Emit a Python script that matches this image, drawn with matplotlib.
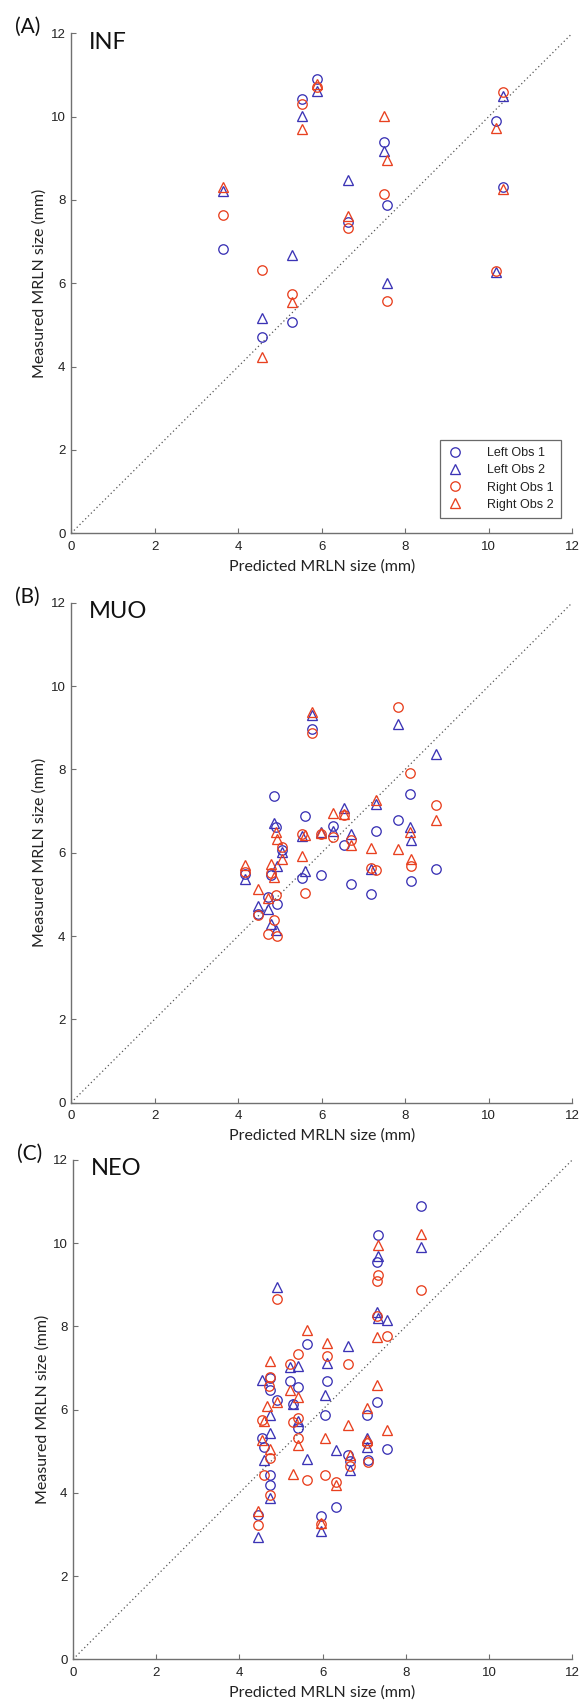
import matplotlib
matplotlib.use("Agg")
import matplotlib.pyplot as plt

# ---------------- Data ----------------
# Panel A (INF): one predicted size per node, four measurements each
inf_x = [3.63, 4.57, 5.30, 5.54, 5.90, 6.63, 7.49, 7.57, 10.18, 10.35]
inf_left_obs1 = [6.82, 4.72, 5.06, 10.42, 10.90, 7.47, 9.38, 7.87, 9.90, 8.30]
inf_left_obs2 = [8.22, 5.17, 6.67, 10.02, 10.62, 8.48, 9.18, 6.00, 6.27, 10.50]
inf_right_obs1 = [7.64, 6.31, 5.74, 10.30, 10.70, 7.33, 8.14, 5.58, 6.30, 10.60]
inf_right_obs2 = [8.32, 4.22, 5.54, 9.70, 10.78, 7.62, 10.02, 8.96, 9.72, 8.27]

# Panel B (MUO)
muo_x = [4.17, 4.48, 4.71, 4.79, 4.86, 4.90, 4.92, 5.06, 5.53, 5.59, 5.78,
         5.98, 6.26, 6.54, 6.70, 7.17, 7.30, 7.83, 8.11, 8.13, 8.74]
muo_left_obs1 = [5.50, 4.53, 4.94, 5.47, 7.35, 6.62, 4.77, 6.06, 5.39, 6.87, 8.96,
                 5.47, 6.64, 6.18, 5.26, 5.00, 6.53, 6.78, 7.42, 5.33, 5.60]
muo_left_obs2 = [5.37, 4.73, 4.65, 4.30, 6.72, 4.14, 5.68, 6.02, 6.40, 5.56, 9.30,
                 6.50, 6.53, 7.08, 6.46, 5.60, 7.17, 9.08, 6.62, 6.30, 8.38]
muo_right_obs1 = [5.53, 4.50, 4.05, 5.52, 4.38, 4.98, 4.00, 6.13, 6.46, 5.03, 8.88,
                  6.46, 6.37, 6.90, 6.31, 5.64, 5.58, 9.50, 7.92, 5.68, 7.14]
muo_right_obs2 = [5.70, 5.14, 4.92, 5.74, 5.42, 6.49, 6.34, 5.84, 5.92, 6.42, 9.38,
                  6.47, 6.96, 6.92, 6.19, 6.12, 7.26, 6.10, 6.50, 5.86, 6.78]

# Panel C (NEO): per-series predicted / measured pairs
neo_left_obs1_x = [8.37, 7.34, 7.30, 5.62, 4.73, 4.73, 5.21, 6.11, 5.41, 7.30, 4.91,
                   5.28, 6.06, 7.06, 5.41, 4.54, 4.58, 7.56, 6.61, 6.66, 7.10, 4.73,
                   4.73, 4.45, 5.96, 6.33]
neo_left_obs1_y = [10.90, 10.20, 9.56, 7.58, 6.75, 6.48, 6.68, 6.70, 6.54, 6.18, 6.24,
                   6.14, 5.86, 5.86, 5.56, 5.32, 5.10, 5.06, 4.92, 4.76, 4.80, 4.42,
                   4.18, 3.46, 3.44, 3.66]
neo_left_obs2_x = [8.37, 7.34, 7.30, 7.32, 7.56, 4.91, 6.61, 5.21, 5.41, 6.11, 4.54,
                   6.06, 5.28, 4.73, 5.41, 4.73, 7.06, 6.33, 4.58, 5.62, 6.66, 7.06,
                   4.73, 4.45, 5.96]
neo_left_obs2_y = [9.90, 9.70, 8.34, 8.20, 8.16, 8.94, 7.52, 7.02, 7.04, 7.12, 6.72,
                   6.36, 6.14, 5.86, 5.72, 5.44, 5.32, 5.04, 4.80, 4.82, 4.56, 5.10,
                   3.88, 2.94, 3.09]
neo_right_obs1_x = [8.37, 7.34, 7.30, 7.30, 4.91, 7.56, 5.41, 6.11, 5.21, 6.61, 4.73,
                    4.70, 4.54, 5.41, 5.28, 5.41, 7.06, 4.73, 6.66, 7.10, 4.58, 5.62,
                    6.06, 6.33, 4.73, 4.45, 5.96]
neo_right_obs1_y = [8.88, 9.24, 9.10, 8.24, 8.66, 7.78, 7.34, 7.28, 7.10, 7.10, 6.78,
                    6.58, 5.76, 5.80, 5.70, 5.32, 5.20, 4.84, 4.64, 4.74, 4.42, 4.30,
                    4.42, 4.26, 3.94, 3.23, 3.26]
neo_right_obs2_x = [8.37, 7.34, 5.62, 7.30, 6.11, 4.73, 5.21, 5.41, 7.30, 4.91, 4.67,
                    7.06, 4.58, 6.61, 7.56, 4.54, 6.06, 7.06, 4.73, 5.41, 6.66, 5.28,
                    6.33, 4.45, 5.96]
neo_right_obs2_y = [10.22, 9.96, 7.92, 7.74, 7.60, 7.16, 6.48, 6.30, 6.60, 6.18, 6.08,
                    6.04, 5.72, 5.64, 5.50, 5.26, 5.32, 5.26, 5.06, 5.16, 4.92, 4.46,
                    4.20, 3.57, 3.28]

series_labels = ["Left Obs 1", "Left Obs 2", "Right Obs 1", "Right Obs 2"]
panel_letters = ["(A)", "(B)", "(C)"]
panel_titles = ["INF", "MUO", "NEO"]
axis_ticks = [0, 2, 4, 6, 8, 10, 12]

# ---------------- Style ----------------
BLUE = "#3b33b5"
RED = "#e8401f"
styles = [(BLUE, "o"), (BLUE, "^"), (RED, "o"), (RED, "^")]
SPINE = "#707070"
TXT = "#222222"
LABEL_FONT = ["Lato", "DejaVu Sans"]
TICK_FONT = ["Liberation Sans", "DejaVu Sans"]

W, H = 581, 1702
fig = plt.figure(figsize=(W / 100, H / 100), dpi=100)

# axes boxes in pixels: (left, top, right, bottom)
boxes = [(71.1, 33.3, 572.2, 533.3),
         (71.1, 602.7, 572.2, 1102.7),
         (73.0, 1160.0, 572.2, 1659.3)]

panels = [
    [(inf_x, inf_left_obs1), (inf_x, inf_left_obs2), (inf_x, inf_right_obs1), (inf_x, inf_right_obs2)],
    [(muo_x, muo_left_obs1), (muo_x, muo_left_obs2), (muo_x, muo_right_obs1), (muo_x, muo_right_obs2)],
    [(neo_left_obs1_x, neo_left_obs1_y), (neo_left_obs2_x, neo_left_obs2_y),
     (neo_right_obs1_x, neo_right_obs1_y), (neo_right_obs2_x, neo_right_obs2_y)],
]

for i, (box, data) in enumerate(zip(boxes, panels)):
    l, t, r, b = box
    ax = fig.add_axes([l / W, 1 - b / H, (r - l) / W, (b - t) / H])
    ax.set_xlim(0, 12)
    ax.set_ylim(0, 12)

    ax.plot([0, 12], [0, 12], linestyle=(0, (1, 2.2)), color="#555555", lw=0.9, zorder=1)

    for (xs, ys), (c, m), lab in zip(data, styles, series_labels):
        ms = 6.8 if m == "o" else 7.2
        ax.plot(xs, ys, linestyle="none", marker=m, markersize=ms, markerfacecolor="none",
                markeredgecolor=c, markeredgewidth=0.95, label=lab, zorder=3)

    for s in ["top", "right"]:
        ax.spines[s].set_visible(False)
    for s in ["left", "bottom"]:
        ax.spines[s].set_color(SPINE)
        ax.spines[s].set_linewidth(1.0)

    ax.set_xticks(axis_ticks)
    ax.set_yticks(axis_ticks)
    ax.tick_params(direction="in", length=3.5, width=0.8, color=SPINE, labelcolor=TXT,
                   labelsize=9.5)
    ax.tick_params(axis="x", pad=5.5)
    ax.tick_params(axis="y", pad=4)
    for lbl in ax.get_xticklabels() + ax.get_yticklabels():
        lbl.set_family(TICK_FONT)

    ax.set_xlabel("Predicted MRLN size (mm)", fontsize=11.5, family=LABEL_FONT, color=TXT)
    ax.set_ylabel("Measured MRLN size (mm)", fontsize=11.5, family=LABEL_FONT, color=TXT)
    ax.xaxis.set_label_coords(0.5, -0.066)
    ax.yaxis.set_label_coords(-0.062, 0.5)
    ax.xaxis.label.set_va("center")
    ax.yaxis.label.set_va("center")

    ax.text(-0.112, 1.012, panel_letters[i], transform=ax.transAxes, fontsize=15,
            family=LABEL_FONT, color="#111111", ha="left", va="center")
    ax.text(0.036, 0.982, panel_titles[i], transform=ax.transAxes, fontsize=17,
            family=LABEL_FONT, color="#111111", ha="left", va="center")

    if i == 0:
        leg = ax.legend(loc="lower right", bbox_to_anchor=(0.978, 0.03),
                        frameon=True, fancybox=False, borderpad=0.6, labelspacing=0.42,
                        handletextpad=2.0, handlelength=1.2, borderaxespad=0.0,
                        prop={"family": TICK_FONT, "size": 9})
        leg.get_frame().set_edgecolor("#444444")
        leg.get_frame().set_linewidth(0.9)
        for txt in leg.get_texts():
            txt.set_color(TXT)

fig.savefig("out.png", dpi=100)
